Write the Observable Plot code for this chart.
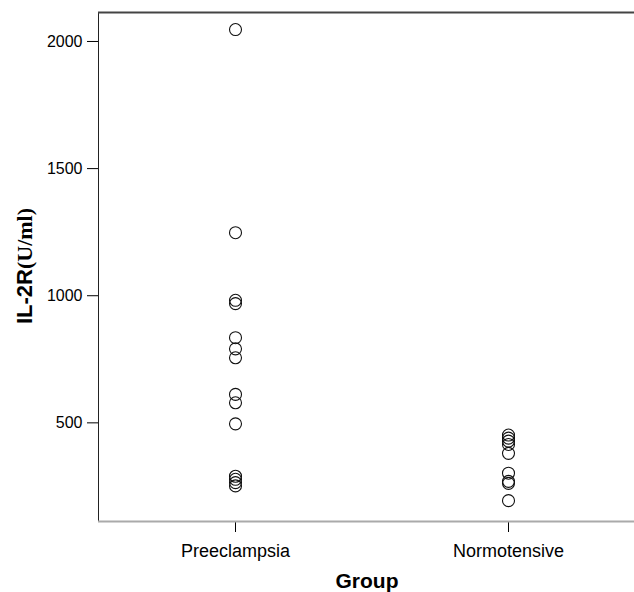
<!DOCTYPE html>
<html>
<head>
<meta charset="utf-8">
<script src="https://cdn.jsdelivr.net/npm/d3@7"></script>
<script src="https://cdn.jsdelivr.net/npm/@observablehq/plot@0.6"></script>
<style>
  html, body { margin: 0; padding: 0; background: #fff; }
  #chart { width: 634px; height: 592px; overflow: hidden; }
</style>
</head>
<body>
<div id="chart"></div>
<script>
const groups = ["Preeclampsia", "Normotensive"];
const preeclampsia = [2047, 1248, 982, 969, 835, 791, 756, 612, 579, 496, 290, 278, 265, 252];
const normotensive = [452, 440, 428, 415, 380, 302, 270, 262, 194];
const yTicks = [500, 1000, 1500, 2000];

const data = [
  ...preeclampsia.map(v => ({group: groups[0], value: v})),
  ...normotensive.map(v => ({group: groups[1], value: v}))
];

const yDomain = [112, 2114];

const plot = Plot.plot({
  width: 634,
  height: 592,
  marginLeft: 98,
  marginRight: -11,
  marginTop: 12,
  marginBottom: 71,
  style: {fontFamily: "Liberation Sans, Arial, sans-serif", background: "#fff", color: "#000"},
  x: {type: "point", domain: groups, padding: 0.5},
  y: {domain: yDomain},
  marks: [
    Plot.axisY({ticks: yTicks, tickSize: 11, tickPadding: 5, fontSize: 16, label: null, tickFormat: d => String(d)}),
    Plot.axisX({tickSize: 11, tickPadding: 12, fontSize: 18, label: null}),
    Plot.frame({stroke: "#222", strokeWidth: 1}),
    Plot.ruleY([yDomain[1]], {stroke: "#444", strokeWidth: 2}),
    Plot.ruleY([yDomain[0]], {stroke: "#aaa", strokeWidth: 2}),
    Plot.dot(data, {x: "group", y: "value", r: 6, stroke: "#111", strokeWidth: 1.1, fill: "none"})
  ]
});

const svg = d3.select(plot);
// y-axis title with mixed fonts
const yt = svg.append("text")
  .attr("transform", "translate(32,266) rotate(-90)")
  .attr("text-anchor", "middle")
  .attr("font-weight", "bold")
  .attr("font-size", 22)
  .attr("fill", "#000");
yt.append("tspan").attr("font-family", "Liberation Sans, Arial, sans-serif").text("IL-2R");
yt.append("tspan").attr("font-family", "Liberation Serif, Times New Roman, serif").text("(U/ml)");
// x-axis title
svg.append("text")
  .attr("x", 367)
  .attr("y", 588)
  .attr("text-anchor", "middle")
  .attr("font-weight", "bold")
  .attr("font-size", 21)
  .attr("font-family", "Liberation Sans, Arial, sans-serif")
  .attr("fill", "#000")
  .text("Group");

document.getElementById("chart").appendChild(plot);
</script>
</body>
</html>
